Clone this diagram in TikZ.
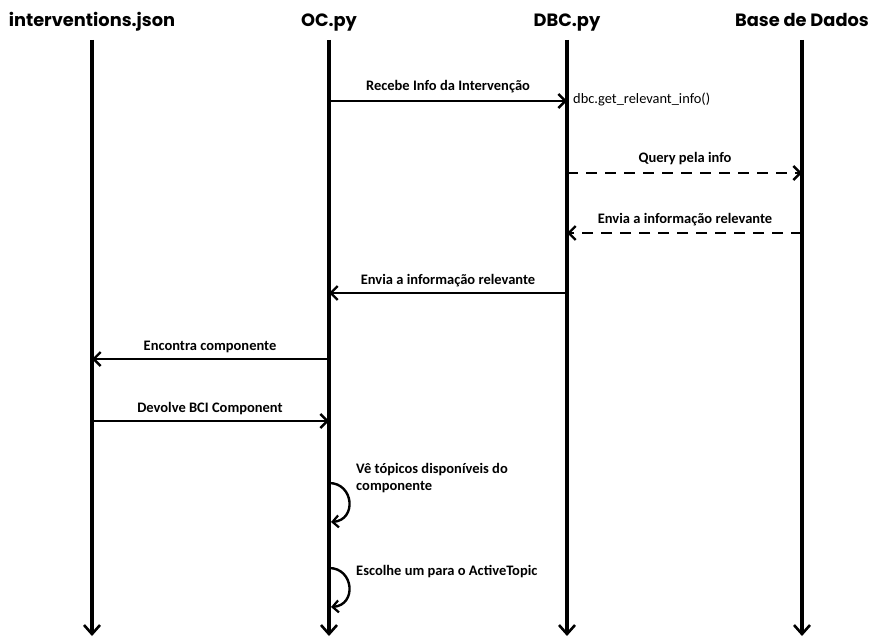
\documentclass[tikz,border=0pt]{standalone}
\usepackage{fontspec}
\setmainfont{Carlito}
\newfontfamily\headfont{Poppins}
\usetikzlibrary{arrows.meta}
\begin{document}
\begin{tikzpicture}[x=1pt,y=-1pt,
  lifeline/.style={line width=3.2pt,-{Straight Barb[length=9pt,width=16pt,line width=2.6pt]}},
  msg/.style={line width=2.6pt,-{Straight Barb[length=7pt,width=14pt,line width=2.4pt]}},
  reply/.style={msg,dash pattern=on 11pt off 8pt},
  selfmsg/.style={line width=2.4pt,-{Straight Barb[length=6pt,width=12pt,line width=2.2pt]}},
  head/.style={font=\headfont\bfseries\fontsize{17.8}{20}\selectfont,inner sep=0pt,anchor=base},
  lbl/.style={font=\bfseries\fontsize{14.5}{17}\selectfont,inner sep=0pt,anchor=base},
  note/.style={font=\fontsize{14.4}{17}\selectfont,inner sep=0pt,anchor=base west}]
\useasboundingbox (0,0) rectangle (872,639);

% participants
\node[head] (hJ) at (92,27) {interventions.json};
\node[head] (hO) at (329,27) {OC.py};
\node[head] (hD) at (567,27) {DBC.py};
\node[head] (hB) at (802,27) {Base de Dados};

% lifeline end points
\foreach \n/\x in {J/92,O/329,D/567,B/802}{
  \coordinate (t\n) at (\x,40);
  \coordinate (b\n) at (\x,636);
}
\foreach \n in {J,O,D,B}{ \draw[lifeline] (t\n) -- (b\n); }

% message anchors on the lifelines
\coordinate (o1) at (329,101); \coordinate (d1) at (567,101);
\coordinate (d2) at (567,173); \coordinate (b2) at (802,173);
\coordinate (b3) at (802,233); \coordinate (d3) at (567,233);
\coordinate (d4) at (567,293); \coordinate (o4) at (329,293);
\coordinate (o5) at (329,359); \coordinate (j5) at (92,359);
\coordinate (j6) at (92,421); \coordinate (o6) at (329,421);
\coordinate (s1a) at (329,483); \coordinate (s1b) at (331,522);
\coordinate (s2a) at (329,568); \coordinate (s2b) at (331,607);

% messages
\draw[msg] (o1) -- (d1);
\node[lbl] (l1) at (448,91) {Recebe Info da Intervenção};
\node[note] (n1) at (573,104) {dbc.get\_relevant\_info()};

\draw[reply] (d2) -- (b2);
\node[lbl] (l2) at (685,163) {Query pela info};

\draw[reply] (b3) -- (d3);
\node[lbl] (l3) at (685,223) {Envia a informação relevante};

\draw[msg] (d4) -- (o4);
\node[lbl] (l4) at (448,284) {Envia a informação relevante};

\draw[msg] (o5) -- (j5);
\node[lbl] (l5) at (210,350) {Encontra componente};

\draw[msg] (j6) -- (o6);
\node[lbl] (l6) at (210,412) {Devolve BCI Component};

% self calls on OC.py
\draw[selfmsg] (s1a) .. controls (354,483) and (357,520) .. (s1b);
\node[lbl,anchor=base west,align=left] (l7) at (356,490) {Vê tópicos disponíveis do\\componente};

\draw[selfmsg] (s2a) .. controls (354,568) and (357,605) .. (s2b);
\node[lbl,anchor=base west] (l8) at (356,575) {Escolhe um para o ActiveTopic};
\end{tikzpicture}
\end{document}
